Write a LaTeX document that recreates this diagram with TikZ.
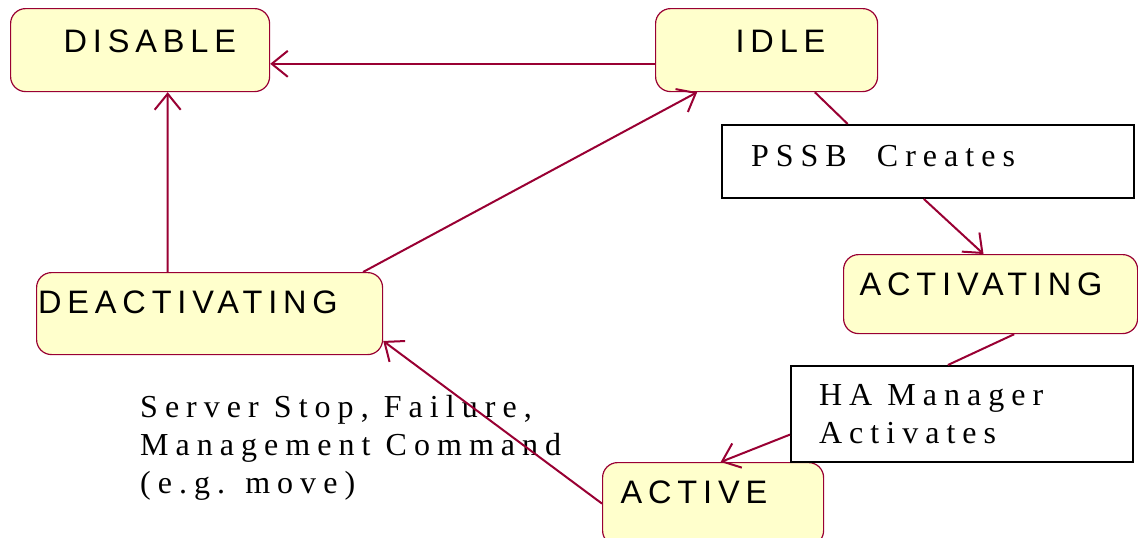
\documentclass[tikz,border=0pt]{standalone}
\usepackage{fontspec}
\usetikzlibrary{arrows.meta,calc}
\newfontfamily\statefont[LetterSpace=18]{Liberation Sans}
\newfontfamily\notefont[LetterSpace=22]{Liberation Serif}
\definecolor{edgecol}{RGB}{153,0,51}
\definecolor{statefill}{RGB}{255,255,204}
\begin{document}
\begin{tikzpicture}[x=1pt,y=-1pt,
  state/.style={draw=edgecol, line width=1.2pt, fill=statefill, rounded corners=15pt,
    inner sep=0pt, anchor=north west, font=\statefont\fontsize{32.5pt}{38pt}\selectfont},
  notebox/.style={draw=black, line width=2pt, fill=white, inner sep=0pt, anchor=north west,
    font=\notefont\fontsize{32pt}{38pt}\selectfont},
  trans/.style={draw=edgecol, line width=2pt, -{Straight Barb[length=16pt,width=26pt]}},
  plain/.style={draw=edgecol, line width=2pt}]
\useasboundingbox (0,0) rectangle (1138,538);
\clip (0,0) rectangle (1138,538);

% states
\node[state, text height=44pt, text depth=39pt] (disable) at (10,8)
  {\makebox[259pt][l]{\hspace*{53pt}DISABLE}};
\node[state, text height=44pt, text depth=39pt] (idle) at (655,8)
  {\makebox[222pt][l]{\hspace*{80pt}IDLE}};
\node[state, text height=41pt, text depth=38pt] (activating) at (843,254)
  {\makebox[294pt][l]{\hspace*{16pt}ACTIVATING}};
\node[state, text height=41pt, text depth=41pt] (deact) at (36,272)
  {\makebox[346pt][l]{\hspace*{1.5pt}DEACTIVATING}};
\node[state, text height=41pt, text depth=42pt] (active) at (602,462)
  {\makebox[221pt][l]{\hspace*{18pt}ACTIVE}};

% transition labels in boxes
\node[notebox, text height=41pt, text depth=32pt] (pssb) at (721,124)
  {\makebox[412pt][l]{\hspace*{29pt}PSSB\ \ Creates}};
\node[notebox, text height=39pt, text depth=57pt] (ha) at (790,365)
  {\makebox[342pt][l]{\hspace*{28pt}\parbox[t]{300pt}{\baselineskip=38pt HA Manager\\Activates}}};

% free label
\node[anchor=base west, inner sep=0pt, font=\notefont\fontsize{32pt}{38pt}\selectfont] (fail) at (140,417)
  {\parbox[t]{500pt}{\baselineskip=38pt Server Stop, Failure,\\Management Command\\(e.g. move)}};

% transitions
\draw[trans] ($(idle.north west)!0.663!(idle.south west)$) -- ($(disable.north east)!0.663!(disable.south east)$);
\draw[trans] ($(deact.north west)!0.379!(deact.north east)$) -- ($(disable.south west)!0.606!(disable.south east)$);
\draw[trans] ($(deact.north west)!0.942!(deact.north east)$) -- ($(idle.south west)!0.189!(idle.south east)$);
\draw[plain] ($(idle.south west)!0.716!(idle.south east)$) -- ($(pssb.north west)!0.306!(pssb.north east)$);
\draw[trans] ($(pssb.south west)!0.49!(pssb.south east)$) -- ($(activating.north west)!0.476!(activating.north east)$);
\draw[plain] ($(activating.south west)!0.58!(activating.south east)$) -- ($(ha.north west)!0.459!(ha.north east)$);
\draw[trans] ($(ha.north west)!0.71!(ha.south west)$) -- ($(active.north west)!0.534!(active.north east)$);
\draw[trans] ($(active.north west)!0.494!(active.south west)$) -- ($(deact.north east)!0.829!(deact.south east)$);
\end{tikzpicture}
\end{document}
